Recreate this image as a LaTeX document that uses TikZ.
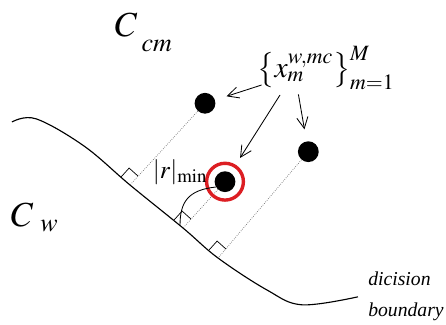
\documentclass[tikz,border=0pt]{standalone}
\usepackage{mathptmx}
\usepackage[no-math]{fontspec}
\setmainfont{Liberation Serif}
\usetikzlibrary{arrows.meta,calc}

\definecolor{RingRed}{RGB}{220,30,35}
\definecolor{PerpGrey}{RGB}{110,110,110}

\tikzset{
  dot/.style={circle, fill=black, inner sep=0pt, minimum size=0.52cm},
  perp/.style={PerpGrey, densely dotted, line width=0.5pt},
  pointer/.style={-{Straight Barb[length=2.8mm,width=2.8mm]}, line width=0.6pt},
  rangle/.style={line width=0.5pt},
}

\begin{document}
\begin{tikzpicture}
  \useasboundingbox (0,0) rectangle (11.15,8.1);
  % decision boundary
  \draw[line width=0.8pt] plot[smooth, tension=0.6] coordinates {(0.3,5.05) (0.9,5.13) (2.1,4.45) (3.25,3.475) (4.575,2.4) (5.45,1.65) (6.675,0.85) (7.55,0.48) (8.95,0.68)};
  % feet of the perpendiculars
  \coordinate (f1) at (3.25,3.475);
  \coordinate (f3) at (4.575,2.4);
  \coordinate (f2) at (5.45,1.65);
  % samples
  \node[dot] (x1) at (5.125,5.518) {};
  \node[dot] (x2) at (7.708,4.308) {};
  \node[dot] (x3) at (5.625,3.558) {};
  % perpendiculars to the boundary
  \draw[perp] (x1) -- (f1);
  \draw[perp] (x3) -- (f3);
  \draw[perp] (x2) -- (f2);
  \foreach \f in {f1,f3,f2}
    \draw[rangle] (\f) ++(138:0.3) -- ++(48:0.3) -- ++(-42:0.3);
  % nearest sample
  \node[circle, draw=RingRed, line width=2.4pt, minimum size=0.92cm, inner sep=0pt] (ring) at (x3) {};
  \draw[line width=0.6pt] (x3.210) .. controls (4.7,3.35) and (4.5,3.05) .. ($(f3)+(138:0.1)$);
  \node[font=\fontsize{18}{18}\selectfont] (rmin) at (4.5,3.8) {$|r|_{\min}$};
  % class labels
  \node[anchor=base west, font=\fontsize{25}{25}\selectfont] (Ccm) at (2.75,7.2) {$C$\hspace{3pt}\raisebox{-10.7pt}{$\scriptstyle cm$}};
  \node[anchor=base west, font=\fontsize{25}{25}\selectfont] (Cw) at (0.15,2.45) {$C$\hspace{5pt}\raisebox{-3.6pt}{$\scriptstyle w$}};
  % sample set
  \node[font=\fontsize{21}{21}\selectfont] (set) at (8.15,6.4) {$\bigl\{x_{m}^{w,mc}\bigr\}_{m=1}^{M}$};
  \coordinate (t1) at (6.54,5.975);
  \coordinate (t2) at (7.0,5.725);
  \coordinate (t3) at (7.46,5.74);
  \draw[pointer, shorten >=0.3cm] (t1) -- (x1);
  \draw[pointer, shorten >=0.2cm] (t2) -- (ring);
  \draw[pointer, shorten >=0.3cm] (t3) -- (x2);
  % boundary label
  \node[anchor=north west, align=left, inner sep=0pt, font=\fontsize{14}{22}\selectfont\itshape] (db) at (9.2,1.3) {dicision\\boundary};
\end{tikzpicture}
\end{document}
